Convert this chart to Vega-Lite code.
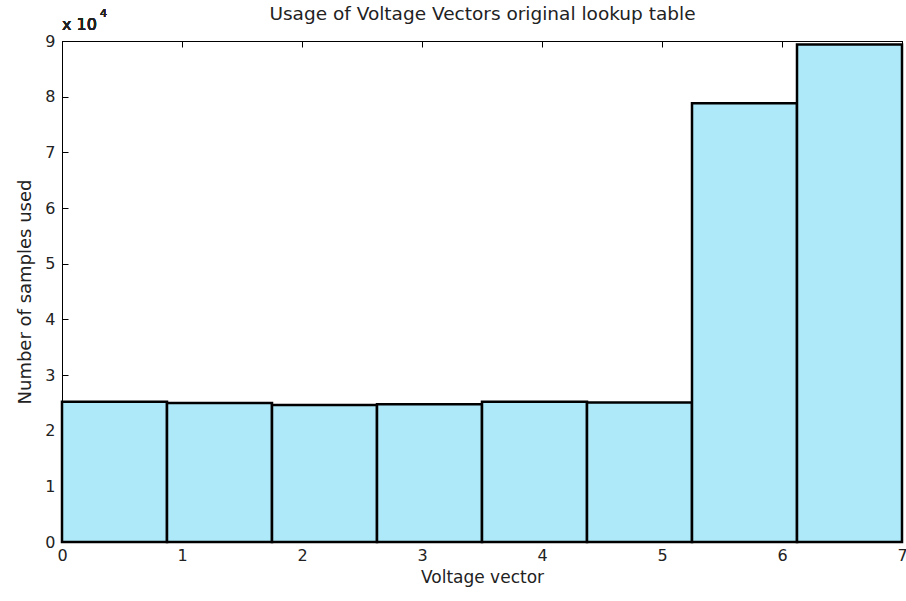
{
  "$schema": "https://vega.github.io/schema/vega-lite/v6.json",
  "width": 840,
  "height": 501,
  "autosize": "none",
  "padding": {"left": 62, "top": 41, "right": 4, "bottom": 59},
  "background": "white",
  "config": {
    "view": {"stroke": "black", "strokeWidth": 1},
    "font": "DejaVu Sans",
    "axis": {
      "grid": false,
      "domainColor": "black",
      "tickColor": "black",
      "labelColor": "#222",
      "titleColor": "#222",
      "labelFont": "DejaVu Sans",
      "titleFont": "DejaVu Sans",
      "labelFontSize": 16,
      "titleFontSize": 16,
      "titleFontWeight": "normal",
      "labelFlush": false,
      "tickSize": -6
    }
  },
  "data": {
    "values": [
      {"bin": 0, "start": 0, "end": 0.875, "count": 25200},
      {"bin": 1, "start": 0.875, "end": 1.75, "count": 24950},
      {"bin": 2, "start": 1.75, "end": 2.625, "count": 24600},
      {"bin": 3, "start": 2.625, "end": 3.5, "count": 24750},
      {"bin": 4, "start": 3.5, "end": 4.375, "count": 25200},
      {"bin": 5, "start": 4.375, "end": 5.25, "count": 25050},
      {"bin": 6, "start": 5.25, "end": 6.125, "count": 78800},
      {"bin": 7, "start": 6.125, "end": 7, "count": 89350}
    ]
  },
  "layer": [
    {
      "mark": {"type": "rect", "fill": "#aee9f9", "stroke": "black", "strokeWidth": 2.5},
      "encoding": {
        "x": {
          "field": "start", "type": "quantitative",
          "scale": {"domain": [0, 7], "nice": false, "zero": false},
          "axis": {"orient": "bottom", "values": [0,1,2,3,4,5,6,7], "title": "Voltage vector", "titleFontSize": 17, "titlePadding": 6, "labelPadding": 11}
        },
        "x2": {"field": "end"},
        "y": {
          "field": "count", "type": "quantitative",
          "scale": {"domain": [0, 90000], "nice": false},
          "axis": {"orient": "left", "values": [0,10000,20000,30000,40000,50000,60000,70000,80000,90000], "labelExpr": "datum.value / 10000", "title": "Number of samples used", "titleFontSize": 18, "titlePadding": 10, "labelPadding": 13}
        },
        "y2": {"datum": 0}
      }
    },
    {
      "mark": {"type": "rect", "opacity": 0},
      "encoding": {
        "x": {
          "field": "start", "type": "quantitative",
          "axis": {"orient": "top", "values": [0,1,2,3,4,5,6,7], "labels": false, "title": "Usage of Voltage Vectors original lookup table", "titleFontSize": 18.5, "titlePadding": 17}
        },
        "y": {
          "field": "count", "type": "quantitative",
          "axis": {"orient": "right", "values": [0,10000,20000,30000,40000,50000,60000,70000,80000,90000], "labels": false, "title": null}
        }
      }
    },
    {
      "mark": {"type": "text", "align": "left", "baseline": "alphabetic", "dx": 0, "dy": -11, "fontSize": 16, "font": "DejaVu Sans", "color": "#222"},
      "encoding": {
        "x": {"datum": 0, "type": "quantitative", "axis": null},
        "y": {"datum": 90000, "type": "quantitative", "axis": null},
        "text": {"value": "x 10"}
      }
    },
    {
      "mark": {"type": "text", "align": "left", "baseline": "alphabetic", "dx": 38, "dy": -24, "fontSize": 11, "font": "DejaVu Sans", "color": "#222"},
      "encoding": {
        "x": {"datum": 0, "type": "quantitative", "axis": null},
        "y": {"datum": 90000, "type": "quantitative", "axis": null},
        "text": {"value": "4"}
      }
    }
  ],
  "resolve": {"axis": {"x": "independent", "y": "independent"}}
}
